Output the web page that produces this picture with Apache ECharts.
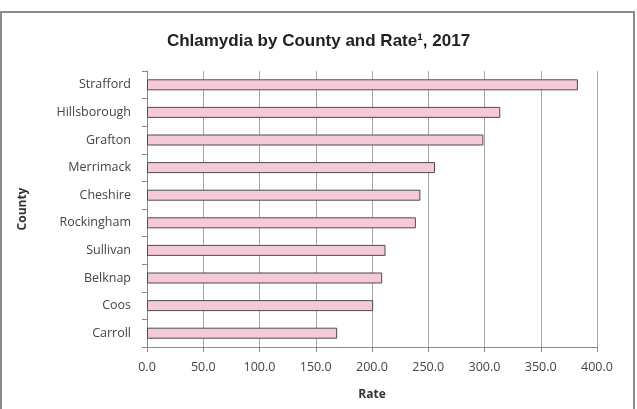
<!DOCTYPE html>
<html>
<head>
<meta charset="utf-8">
<script src="https://cdn.jsdelivr.net/npm/echarts@6/dist/echarts.min.js"></script>
<style>
  html, body { margin: 0; padding: 0; background: #fff; }
  #main { width: 637px; height: 409px; }
</style>
</head>
<body>
<div id="main"></div>
<script>
// data
const counties = ['Strafford', 'Hillsborough', 'Grafton', 'Merrimack', 'Cheshire',
  'Rockingham', 'Sullivan', 'Belknap', 'Coos', 'Carroll'];
const rates = [383, 314, 299, 256, 243, 239, 212, 209, 201, 169];

let chart = echarts.init(document.getElementById('main'));
let option = {
  animation: false,
  backgroundColor: '#fff',
  graphic: [
    // chart frame
    {
      type: 'rect',
      shape: { x: 1, y: 12, width: 633, height: 400 },
      style: { fill: 'none', stroke: '#8c8c8c', lineWidth: 2 }
    }
  ],
  title: {
    text: 'Chlamydia by County and Rate\u00b9, 2017',
    left: 'center',
    top: 28,
    textStyle: {
      fontFamily: 'Liberation Sans',
      fontWeight: 'bold',
      fontSize: 17,
      color: '#222'
    }
  },
  grid: {
    left: 147,
    right: 40,
    top: 71,
    bottom: 62
  },
  xAxis: {
    type: 'value',
    min: 0,
    max: 400,
    interval: 50,
    name: 'Rate',
    nameLocation: 'middle',
    nameGap: 42,
    nameTextStyle: { fontFamily: 'Open Sans', fontWeight: 'bold', fontSize: 12, color: '#333' },
    axisLine: { show: true, lineStyle: { color: '#888' } },
    axisTick: { show: true, length: 5, lineStyle: { color: '#888' } },
    axisLabel: {
      margin: 14,
      fontFamily: 'Open Sans',
      fontSize: 12.5,
      color: '#444',
      formatter: (v) => v.toFixed(1)
    },
    splitLine: { show: true, lineStyle: { color: '#a6a6a6' } }
  },
  yAxis: {
    type: 'category',
    inverse: true,
    data: counties,
    name: 'County',
    nameLocation: 'middle',
    nameGap: 118,
    nameRotate: 90,
    nameTextStyle: { fontFamily: 'Open Sans', fontWeight: 'bold', fontSize: 12, color: '#333' },
    axisLine: { show: true, lineStyle: { color: '#888' } },
    axisTick: { show: true, length: 5, lineStyle: { color: '#888' } },
    axisLabel: {
      margin: 16,
      fontFamily: 'Open Sans',
      fontSize: 12.5,
      color: '#444'
    }
  },
  series: [
    {
      name: 'Rate',
      type: 'bar',
      data: rates,
      barWidth: 11,
      itemStyle: {
        color: '#f5c9d8',
        borderColor: '#4d4d4d',
        borderWidth: 1
      }
    }
  ]
};
chart.setOption(option);
</script>
</body>
</html>
